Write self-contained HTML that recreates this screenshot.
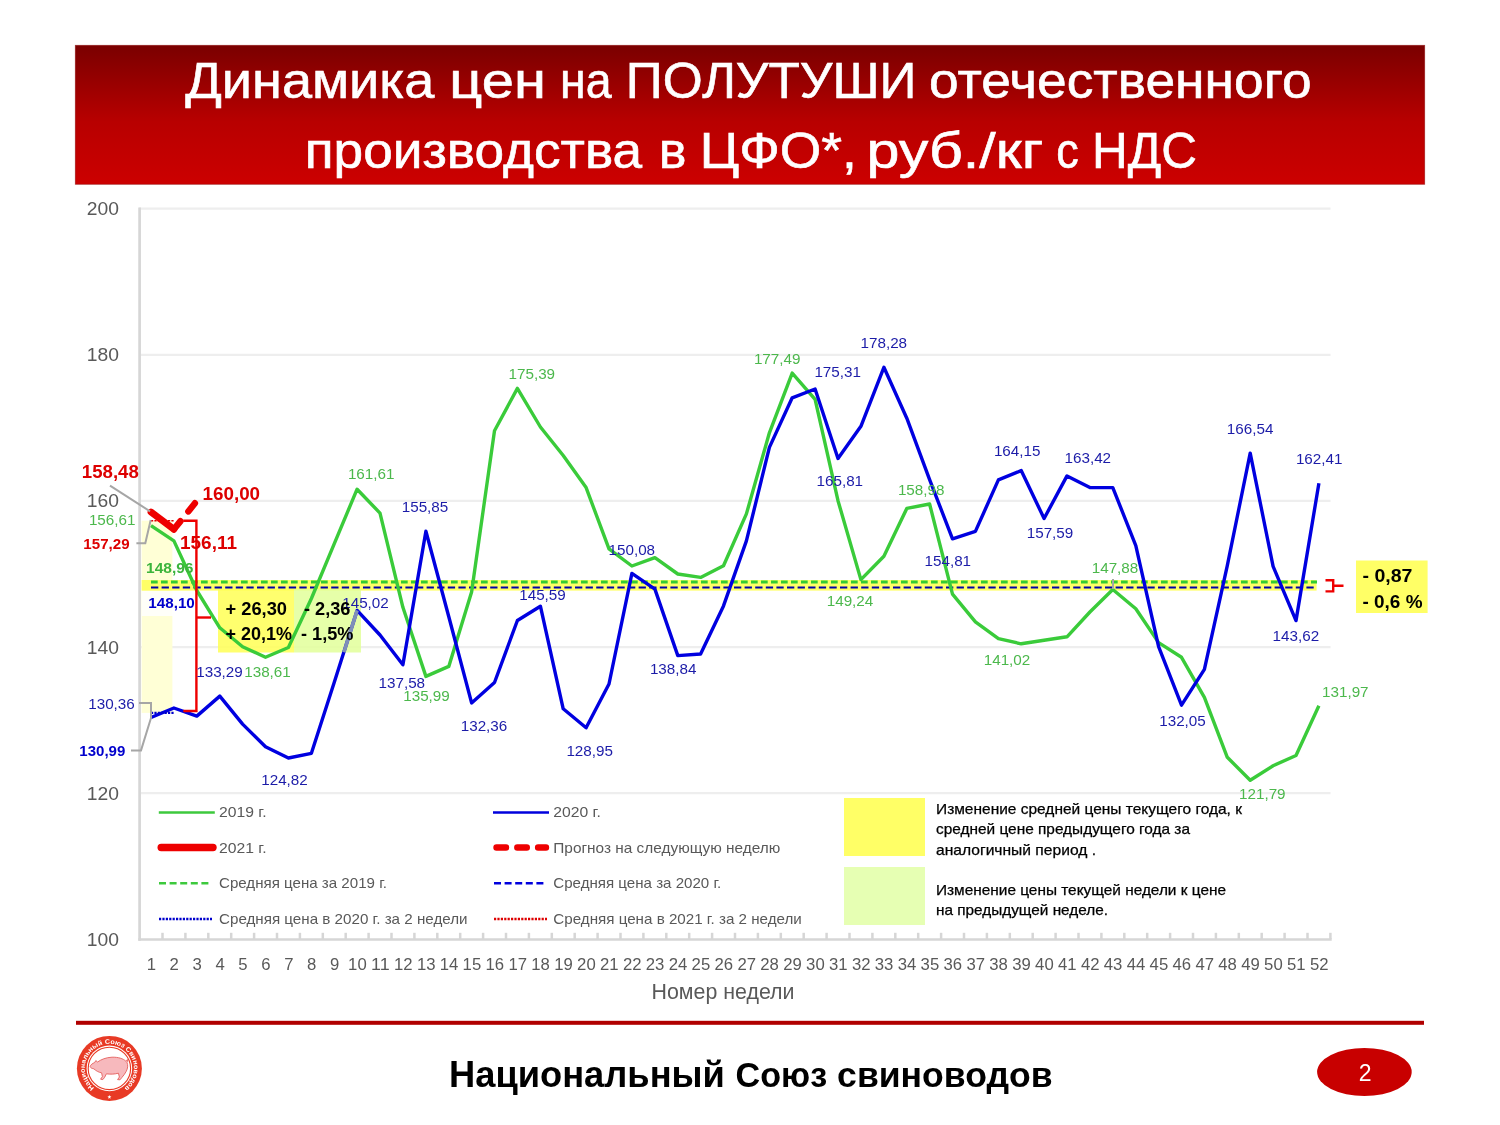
<!DOCTYPE html>
<html lang="ru"><head><meta charset="utf-8"><title>Динамика цен на ПОЛУТУШИ</title>
<style>html,body{margin:0;padding:0;background:#fff;}svg{display:block;}text{font-family:"Liberation Sans",sans-serif;}</style></head><body>
<svg width="1500" height="1125" viewBox="0 0 1500 1125">
<defs><linearGradient id="hg" x1="0" y1="0" x2="0" y2="1"><stop offset="0" stop-color="#7a0000"/><stop offset="0.55" stop-color="#b80000"/><stop offset="1" stop-color="#cc0000"/></linearGradient></defs>
<rect width="1500" height="1125" fill="#ffffff"/>
<rect x="75.3" y="45.3" width="1349.4" height="139" fill="url(#hg)" stroke="#8a0000" stroke-opacity="0.6" stroke-width="0.8"/>
<text transform="translate(185.20,98.1) scale(1.0925,1)" font-size="49.5" fill="#ffffff" stroke="#ffffff" stroke-width="0.6">Динамика</text>
<text transform="translate(449.29,98.1) scale(1.1687,1)" font-size="49.5" fill="#ffffff" stroke="#ffffff" stroke-width="0.6">цен</text>
<text transform="translate(559.98,98.1) scale(0.9401,1)" font-size="49.5" fill="#ffffff" stroke="#ffffff" stroke-width="0.6">на</text>
<text transform="translate(625.85,98.1) scale(1.0378,1)" font-size="49.5" fill="#ffffff" stroke="#ffffff" stroke-width="0.6">ПОЛУТУШИ</text>
<text transform="translate(929.05,98.1) scale(1.0773,1)" font-size="49.5" fill="#ffffff" stroke="#ffffff" stroke-width="0.6">отечественного</text>
<text transform="translate(304.77,167.5) scale(1.0750,1)" font-size="49.5" fill="#ffffff" stroke="#ffffff" stroke-width="0.6">производства</text>
<text transform="translate(658.84,167.5) scale(1.0545,1)" font-size="49.5" fill="#ffffff" stroke="#ffffff" stroke-width="0.6">в</text>
<text transform="translate(699.69,167.5) scale(1.0781,1)" font-size="49.5" fill="#ffffff" stroke="#ffffff" stroke-width="0.6">ЦФО*,</text>
<text transform="translate(866.41,167.5) scale(1.1962,1)" font-size="49.5" fill="#ffffff" stroke="#ffffff" stroke-width="0.6">руб./кг</text>
<text transform="translate(1056.18,167.5) scale(0.9091,1)" font-size="49.5" fill="#ffffff" stroke="#ffffff" stroke-width="0.6">с</text>
<text transform="translate(1092.00,167.5) scale(0.9993,1)" font-size="49.5" fill="#ffffff" stroke="#ffffff" stroke-width="0.6">НДС</text>
<line x1="139" y1="208.6" x2="1330.5" y2="208.6" stroke="#eeeeee" stroke-width="2.2"/>
<line x1="139" y1="354.8" x2="1330.5" y2="354.8" stroke="#eeeeee" stroke-width="2.2"/>
<line x1="139" y1="500.9" x2="1330.5" y2="500.9" stroke="#eeeeee" stroke-width="2.2"/>
<line x1="139" y1="647.1" x2="1330.5" y2="647.1" stroke="#eeeeee" stroke-width="2.2"/>
<line x1="139" y1="793.2" x2="1330.5" y2="793.2" stroke="#eeeeee" stroke-width="2.2"/>
<rect x="141.6" y="520.7" width="30.8" height="192.2" fill="#ffffd6"/>
<rect x="141.6" y="580" width="1175" height="10.6" fill="#ffff66"/>
<line x1="139.6" y1="207.5" x2="139.6" y2="940.7" stroke="#d6d6d6" stroke-width="2.7"/>
<line x1="138.3" y1="939.45" x2="1331.7" y2="939.45" stroke="#d6d6d6" stroke-width="2.5"/>
<line x1="162.5" y1="932.8" x2="162.5" y2="939" stroke="#d6d6d6" stroke-width="2.5"/>
<line x1="185.4" y1="932.8" x2="185.4" y2="939" stroke="#d6d6d6" stroke-width="2.5"/>
<line x1="208.3" y1="932.8" x2="208.3" y2="939" stroke="#d6d6d6" stroke-width="2.5"/>
<line x1="231.2" y1="932.8" x2="231.2" y2="939" stroke="#d6d6d6" stroke-width="2.5"/>
<line x1="254.1" y1="932.8" x2="254.1" y2="939" stroke="#d6d6d6" stroke-width="2.5"/>
<line x1="277.0" y1="932.8" x2="277.0" y2="939" stroke="#d6d6d6" stroke-width="2.5"/>
<line x1="299.9" y1="932.8" x2="299.9" y2="939" stroke="#d6d6d6" stroke-width="2.5"/>
<line x1="322.8" y1="932.8" x2="322.8" y2="939" stroke="#d6d6d6" stroke-width="2.5"/>
<line x1="345.7" y1="932.8" x2="345.7" y2="939" stroke="#d6d6d6" stroke-width="2.5"/>
<line x1="368.6" y1="932.8" x2="368.6" y2="939" stroke="#d6d6d6" stroke-width="2.5"/>
<line x1="391.5" y1="932.8" x2="391.5" y2="939" stroke="#d6d6d6" stroke-width="2.5"/>
<line x1="414.4" y1="932.8" x2="414.4" y2="939" stroke="#d6d6d6" stroke-width="2.5"/>
<line x1="437.3" y1="932.8" x2="437.3" y2="939" stroke="#d6d6d6" stroke-width="2.5"/>
<line x1="460.2" y1="932.8" x2="460.2" y2="939" stroke="#d6d6d6" stroke-width="2.5"/>
<line x1="483.1" y1="932.8" x2="483.1" y2="939" stroke="#d6d6d6" stroke-width="2.5"/>
<line x1="506.0" y1="932.8" x2="506.0" y2="939" stroke="#d6d6d6" stroke-width="2.5"/>
<line x1="528.9" y1="932.8" x2="528.9" y2="939" stroke="#d6d6d6" stroke-width="2.5"/>
<line x1="551.8" y1="932.8" x2="551.8" y2="939" stroke="#d6d6d6" stroke-width="2.5"/>
<line x1="574.7" y1="932.8" x2="574.7" y2="939" stroke="#d6d6d6" stroke-width="2.5"/>
<line x1="597.6" y1="932.8" x2="597.6" y2="939" stroke="#d6d6d6" stroke-width="2.5"/>
<line x1="620.5" y1="932.8" x2="620.5" y2="939" stroke="#d6d6d6" stroke-width="2.5"/>
<line x1="643.4" y1="932.8" x2="643.4" y2="939" stroke="#d6d6d6" stroke-width="2.5"/>
<line x1="666.3" y1="932.8" x2="666.3" y2="939" stroke="#d6d6d6" stroke-width="2.5"/>
<line x1="689.2" y1="932.8" x2="689.2" y2="939" stroke="#d6d6d6" stroke-width="2.5"/>
<line x1="712.1" y1="932.8" x2="712.1" y2="939" stroke="#d6d6d6" stroke-width="2.5"/>
<line x1="735.0" y1="932.8" x2="735.0" y2="939" stroke="#d6d6d6" stroke-width="2.5"/>
<line x1="757.9" y1="932.8" x2="757.9" y2="939" stroke="#d6d6d6" stroke-width="2.5"/>
<line x1="780.8" y1="932.8" x2="780.8" y2="939" stroke="#d6d6d6" stroke-width="2.5"/>
<line x1="803.7" y1="932.8" x2="803.7" y2="939" stroke="#d6d6d6" stroke-width="2.5"/>
<line x1="826.6" y1="932.8" x2="826.6" y2="939" stroke="#d6d6d6" stroke-width="2.5"/>
<line x1="849.5" y1="932.8" x2="849.5" y2="939" stroke="#d6d6d6" stroke-width="2.5"/>
<line x1="872.4" y1="932.8" x2="872.4" y2="939" stroke="#d6d6d6" stroke-width="2.5"/>
<line x1="895.3" y1="932.8" x2="895.3" y2="939" stroke="#d6d6d6" stroke-width="2.5"/>
<line x1="918.2" y1="932.8" x2="918.2" y2="939" stroke="#d6d6d6" stroke-width="2.5"/>
<line x1="941.1" y1="932.8" x2="941.1" y2="939" stroke="#d6d6d6" stroke-width="2.5"/>
<line x1="964.0" y1="932.8" x2="964.0" y2="939" stroke="#d6d6d6" stroke-width="2.5"/>
<line x1="986.9" y1="932.8" x2="986.9" y2="939" stroke="#d6d6d6" stroke-width="2.5"/>
<line x1="1009.8" y1="932.8" x2="1009.8" y2="939" stroke="#d6d6d6" stroke-width="2.5"/>
<line x1="1032.7" y1="932.8" x2="1032.7" y2="939" stroke="#d6d6d6" stroke-width="2.5"/>
<line x1="1055.6" y1="932.8" x2="1055.6" y2="939" stroke="#d6d6d6" stroke-width="2.5"/>
<line x1="1078.5" y1="932.8" x2="1078.5" y2="939" stroke="#d6d6d6" stroke-width="2.5"/>
<line x1="1101.4" y1="932.8" x2="1101.4" y2="939" stroke="#d6d6d6" stroke-width="2.5"/>
<line x1="1124.3" y1="932.8" x2="1124.3" y2="939" stroke="#d6d6d6" stroke-width="2.5"/>
<line x1="1147.2" y1="932.8" x2="1147.2" y2="939" stroke="#d6d6d6" stroke-width="2.5"/>
<line x1="1170.1" y1="932.8" x2="1170.1" y2="939" stroke="#d6d6d6" stroke-width="2.5"/>
<line x1="1193.0" y1="932.8" x2="1193.0" y2="939" stroke="#d6d6d6" stroke-width="2.5"/>
<line x1="1215.9" y1="932.8" x2="1215.9" y2="939" stroke="#d6d6d6" stroke-width="2.5"/>
<line x1="1238.8" y1="932.8" x2="1238.8" y2="939" stroke="#d6d6d6" stroke-width="2.5"/>
<line x1="1261.7" y1="932.8" x2="1261.7" y2="939" stroke="#d6d6d6" stroke-width="2.5"/>
<line x1="1284.6" y1="932.8" x2="1284.6" y2="939" stroke="#d6d6d6" stroke-width="2.5"/>
<line x1="1307.5" y1="932.8" x2="1307.5" y2="939" stroke="#d6d6d6" stroke-width="2.5"/>
<line x1="1330.4" y1="932.8" x2="1330.4" y2="939" stroke="#d6d6d6" stroke-width="2.5"/>
<text x="119.0" y="215.1" font-size="18.4" fill="#595959" text-anchor="end" textLength="32.2" lengthAdjust="spacingAndGlyphs">200</text>
<text x="119.0" y="361.3" font-size="18.4" fill="#595959" text-anchor="end" textLength="32.2" lengthAdjust="spacingAndGlyphs">180</text>
<text x="119.0" y="507.4" font-size="18.4" fill="#595959" text-anchor="end" textLength="32.2" lengthAdjust="spacingAndGlyphs">160</text>
<text x="119.0" y="653.6" font-size="18.4" fill="#595959" text-anchor="end" textLength="32.2" lengthAdjust="spacingAndGlyphs">140</text>
<text x="119.0" y="799.7" font-size="18.4" fill="#595959" text-anchor="end" textLength="32.2" lengthAdjust="spacingAndGlyphs">120</text>
<text x="119.0" y="945.9" font-size="18.4" fill="#595959" text-anchor="end" textLength="32.2" lengthAdjust="spacingAndGlyphs">100</text>
<text x="151.3" y="970.2" font-size="16.8" fill="#595959" text-anchor="middle" textLength="9.3" lengthAdjust="spacingAndGlyphs">1</text>
<text x="174.2" y="970.2" font-size="16.8" fill="#595959" text-anchor="middle" textLength="9.3" lengthAdjust="spacingAndGlyphs">2</text>
<text x="197.2" y="970.2" font-size="16.8" fill="#595959" text-anchor="middle" textLength="9.3" lengthAdjust="spacingAndGlyphs">3</text>
<text x="220.1" y="970.2" font-size="16.8" fill="#595959" text-anchor="middle" textLength="9.3" lengthAdjust="spacingAndGlyphs">4</text>
<text x="242.9" y="970.2" font-size="16.8" fill="#595959" text-anchor="middle" textLength="9.3" lengthAdjust="spacingAndGlyphs">5</text>
<text x="265.8" y="970.2" font-size="16.8" fill="#595959" text-anchor="middle" textLength="9.3" lengthAdjust="spacingAndGlyphs">6</text>
<text x="288.8" y="970.2" font-size="16.8" fill="#595959" text-anchor="middle" textLength="9.3" lengthAdjust="spacingAndGlyphs">7</text>
<text x="311.7" y="970.2" font-size="16.8" fill="#595959" text-anchor="middle" textLength="9.3" lengthAdjust="spacingAndGlyphs">8</text>
<text x="334.6" y="970.2" font-size="16.8" fill="#595959" text-anchor="middle" textLength="9.3" lengthAdjust="spacingAndGlyphs">9</text>
<text x="357.4" y="970.2" font-size="16.8" fill="#595959" text-anchor="middle" textLength="18.6" lengthAdjust="spacingAndGlyphs">10</text>
<text x="380.3" y="970.2" font-size="16.8" fill="#595959" text-anchor="middle" textLength="18.6" lengthAdjust="spacingAndGlyphs">11</text>
<text x="403.2" y="970.2" font-size="16.8" fill="#595959" text-anchor="middle" textLength="18.6" lengthAdjust="spacingAndGlyphs">12</text>
<text x="426.2" y="970.2" font-size="16.8" fill="#595959" text-anchor="middle" textLength="18.6" lengthAdjust="spacingAndGlyphs">13</text>
<text x="449.1" y="970.2" font-size="16.8" fill="#595959" text-anchor="middle" textLength="18.6" lengthAdjust="spacingAndGlyphs">14</text>
<text x="471.9" y="970.2" font-size="16.8" fill="#595959" text-anchor="middle" textLength="18.6" lengthAdjust="spacingAndGlyphs">15</text>
<text x="494.8" y="970.2" font-size="16.8" fill="#595959" text-anchor="middle" textLength="18.6" lengthAdjust="spacingAndGlyphs">16</text>
<text x="517.7" y="970.2" font-size="16.8" fill="#595959" text-anchor="middle" textLength="18.6" lengthAdjust="spacingAndGlyphs">17</text>
<text x="540.6" y="970.2" font-size="16.8" fill="#595959" text-anchor="middle" textLength="18.6" lengthAdjust="spacingAndGlyphs">18</text>
<text x="563.5" y="970.2" font-size="16.8" fill="#595959" text-anchor="middle" textLength="18.6" lengthAdjust="spacingAndGlyphs">19</text>
<text x="586.4" y="970.2" font-size="16.8" fill="#595959" text-anchor="middle" textLength="18.6" lengthAdjust="spacingAndGlyphs">20</text>
<text x="609.3" y="970.2" font-size="16.8" fill="#595959" text-anchor="middle" textLength="18.6" lengthAdjust="spacingAndGlyphs">21</text>
<text x="632.2" y="970.2" font-size="16.8" fill="#595959" text-anchor="middle" textLength="18.6" lengthAdjust="spacingAndGlyphs">22</text>
<text x="655.1" y="970.2" font-size="16.8" fill="#595959" text-anchor="middle" textLength="18.6" lengthAdjust="spacingAndGlyphs">23</text>
<text x="678.0" y="970.2" font-size="16.8" fill="#595959" text-anchor="middle" textLength="18.6" lengthAdjust="spacingAndGlyphs">24</text>
<text x="700.9" y="970.2" font-size="16.8" fill="#595959" text-anchor="middle" textLength="18.6" lengthAdjust="spacingAndGlyphs">25</text>
<text x="723.8" y="970.2" font-size="16.8" fill="#595959" text-anchor="middle" textLength="18.6" lengthAdjust="spacingAndGlyphs">26</text>
<text x="746.7" y="970.2" font-size="16.8" fill="#595959" text-anchor="middle" textLength="18.6" lengthAdjust="spacingAndGlyphs">27</text>
<text x="769.6" y="970.2" font-size="16.8" fill="#595959" text-anchor="middle" textLength="18.6" lengthAdjust="spacingAndGlyphs">28</text>
<text x="792.5" y="970.2" font-size="16.8" fill="#595959" text-anchor="middle" textLength="18.6" lengthAdjust="spacingAndGlyphs">29</text>
<text x="815.4" y="970.2" font-size="16.8" fill="#595959" text-anchor="middle" textLength="18.6" lengthAdjust="spacingAndGlyphs">30</text>
<text x="838.3" y="970.2" font-size="16.8" fill="#595959" text-anchor="middle" textLength="18.6" lengthAdjust="spacingAndGlyphs">31</text>
<text x="861.2" y="970.2" font-size="16.8" fill="#595959" text-anchor="middle" textLength="18.6" lengthAdjust="spacingAndGlyphs">32</text>
<text x="884.1" y="970.2" font-size="16.8" fill="#595959" text-anchor="middle" textLength="18.6" lengthAdjust="spacingAndGlyphs">33</text>
<text x="907.0" y="970.2" font-size="16.8" fill="#595959" text-anchor="middle" textLength="18.6" lengthAdjust="spacingAndGlyphs">34</text>
<text x="929.9" y="970.2" font-size="16.8" fill="#595959" text-anchor="middle" textLength="18.6" lengthAdjust="spacingAndGlyphs">35</text>
<text x="952.8" y="970.2" font-size="16.8" fill="#595959" text-anchor="middle" textLength="18.6" lengthAdjust="spacingAndGlyphs">36</text>
<text x="975.7" y="970.2" font-size="16.8" fill="#595959" text-anchor="middle" textLength="18.6" lengthAdjust="spacingAndGlyphs">37</text>
<text x="998.6" y="970.2" font-size="16.8" fill="#595959" text-anchor="middle" textLength="18.6" lengthAdjust="spacingAndGlyphs">38</text>
<text x="1021.5" y="970.2" font-size="16.8" fill="#595959" text-anchor="middle" textLength="18.6" lengthAdjust="spacingAndGlyphs">39</text>
<text x="1044.4" y="970.2" font-size="16.8" fill="#595959" text-anchor="middle" textLength="18.6" lengthAdjust="spacingAndGlyphs">40</text>
<text x="1067.3" y="970.2" font-size="16.8" fill="#595959" text-anchor="middle" textLength="18.6" lengthAdjust="spacingAndGlyphs">41</text>
<text x="1090.2" y="970.2" font-size="16.8" fill="#595959" text-anchor="middle" textLength="18.6" lengthAdjust="spacingAndGlyphs">42</text>
<text x="1113.1" y="970.2" font-size="16.8" fill="#595959" text-anchor="middle" textLength="18.6" lengthAdjust="spacingAndGlyphs">43</text>
<text x="1136.0" y="970.2" font-size="16.8" fill="#595959" text-anchor="middle" textLength="18.6" lengthAdjust="spacingAndGlyphs">44</text>
<text x="1158.9" y="970.2" font-size="16.8" fill="#595959" text-anchor="middle" textLength="18.6" lengthAdjust="spacingAndGlyphs">45</text>
<text x="1181.8" y="970.2" font-size="16.8" fill="#595959" text-anchor="middle" textLength="18.6" lengthAdjust="spacingAndGlyphs">46</text>
<text x="1204.7" y="970.2" font-size="16.8" fill="#595959" text-anchor="middle" textLength="18.6" lengthAdjust="spacingAndGlyphs">47</text>
<text x="1227.6" y="970.2" font-size="16.8" fill="#595959" text-anchor="middle" textLength="18.6" lengthAdjust="spacingAndGlyphs">48</text>
<text x="1250.5" y="970.2" font-size="16.8" fill="#595959" text-anchor="middle" textLength="18.6" lengthAdjust="spacingAndGlyphs">49</text>
<text x="1273.4" y="970.2" font-size="16.8" fill="#595959" text-anchor="middle" textLength="18.6" lengthAdjust="spacingAndGlyphs">50</text>
<text x="1296.3" y="970.2" font-size="16.8" fill="#595959" text-anchor="middle" textLength="18.6" lengthAdjust="spacingAndGlyphs">51</text>
<text x="1319.2" y="970.2" font-size="16.8" fill="#595959" text-anchor="middle" textLength="18.6" lengthAdjust="spacingAndGlyphs">52</text>
<text x="651.5" y="999.4" font-size="21.2" fill="#595959" textLength="143.0" lengthAdjust="spacingAndGlyphs">Номер недели</text>
<rect x="844" y="798" width="81" height="58" fill="#ffff66"/>
<rect x="844" y="867" width="81" height="58" fill="#e6ffb3"/>
<text x="936.0" y="814.0" font-size="14.4" fill="#000000" textLength="306.0" lengthAdjust="spacingAndGlyphs" stroke="#000" stroke-width="0.25">Изменение средней цены текущего года, к</text>
<text x="936.0" y="834.4" font-size="14.4" fill="#000000" textLength="254.0" lengthAdjust="spacingAndGlyphs" stroke="#000" stroke-width="0.25">средней цене предыдущего года за</text>
<text x="936.0" y="855.0" font-size="14.4" fill="#000000" textLength="160.0" lengthAdjust="spacingAndGlyphs" stroke="#000" stroke-width="0.25">аналогичный период .</text>
<text x="936.0" y="895.2" font-size="14.4" fill="#000000" textLength="290.0" lengthAdjust="spacingAndGlyphs" stroke="#000" stroke-width="0.25">Изменение цены текущей недели к цене</text>
<text x="936.0" y="915.4" font-size="14.4" fill="#000000" textLength="172.0" lengthAdjust="spacingAndGlyphs" stroke="#000" stroke-width="0.25">на предыдущей неделе.</text>
<rect x="141.8" y="591" width="53.4" height="25" fill="#ffffff" fill-opacity="0.85"/>
<rect x="218" y="589" width="76" height="63.5" fill="#ffff55" fill-opacity="0.85"/>
<rect x="294" y="589" width="67" height="63.5" fill="#e2ff9a" fill-opacity="0.85"/>
<line x1="151" y1="582" x2="1317" y2="582" stroke="#33cc33" stroke-width="3" stroke-dasharray="6.7 3.3"/>
<line x1="151" y1="587.4" x2="1317" y2="587.4" stroke="#0000a8" stroke-width="2" stroke-dasharray="7.3 3.3"/>
<polyline points="151.0,525.7 173.9,540.9 196.8,590.5 219.8,627.8 242.6,646.7 265.5,657.2 288.4,647.5 311.4,598.5 334.2,543.8 357.1,489.2 380.0,513.1 402.9,607.3 425.9,676.4 448.8,666.4 471.6,592.0 494.5,430.7 517.4,388.4 540.4,427.0 563.2,455.5 586.1,487.6 609.0,548.9 631.9,566.0 654.9,557.7 677.8,574.0 700.6,577.4 723.5,565.7 746.4,513.9 769.4,432.8 792.2,373.1 815.1,399.3 838.0,500.7 860.9,579.6 883.9,556.2 906.8,508.4 929.6,504.0 952.5,594.2 975.4,621.9 998.4,638.7 1021.2,643.8 1044.1,640.2 1067.0,636.8 1089.9,612.0 1112.8,589.5 1135.8,608.8 1158.6,642.6 1181.5,657.3 1204.4,697.3 1227.3,757.3 1250.2,780.2 1273.1,765.7 1296.0,755.5 1318.9,705.8" fill="none" stroke="#3acb3a" stroke-width="3.4" stroke-linejoin="round" stroke-linecap="butt"/>
<polyline points="151.0,717.5 173.9,708.0 196.8,716.1 219.8,696.1 242.6,724.1 265.5,746.7 288.4,758.0 311.4,753.3 334.2,682.5 357.1,610.4 380.0,635.0 402.9,664.8 425.9,531.2 448.8,616.8 471.6,702.9 494.5,682.5 517.4,620.5 540.4,606.2 563.2,708.8 586.1,727.8 609.0,684.0 631.9,573.4 654.9,589.1 677.8,655.6 700.6,654.0 723.5,605.9 746.4,540.9 769.4,447.4 792.2,397.8 815.1,389.0 838.0,458.5 860.9,426.3 883.9,367.3 906.8,418.2 929.6,479.6 952.5,538.8 975.4,531.4 998.4,479.9 1021.2,470.6 1044.1,518.5 1067.0,475.9 1089.9,487.6 1112.8,487.6 1135.8,545.6 1158.6,646.7 1181.5,705.2 1204.4,669.4 1227.3,565.7 1250.2,453.1 1273.1,566.4 1296.0,620.6 1318.9,483.3" fill="none" stroke="#0000e0" stroke-width="3.4" stroke-linejoin="round" stroke-linecap="butt"/>
<line x1="343.9" y1="652.2" x2="357.1" y2="610.4" stroke="#7f8fb8" stroke-width="3.6"/>
<line x1="151.0" y1="712.9" x2="173.9" y2="712.9" stroke="#0000cc" stroke-width="2.4" stroke-dasharray="2.2 1.2"/>
<line x1="151.0" y1="520.7" x2="173.9" y2="520.7" stroke="#dd0000" stroke-width="1.6" stroke-dasharray="2.2 1.2"/>
<polyline points="151.0,512.0 173.9,529.3" fill="none" stroke="#ee0000" stroke-width="6.8" stroke-linecap="round"/>
<line x1="173.9" y1="529.3" x2="196.8" y2="500.9" stroke="#ee0000" stroke-width="6.4" stroke-linecap="round" stroke-dasharray="10.5 12.5"/>
<polyline points="183.3,520.7 196.4,520.7 196.4,711 183.3,711" fill="none" stroke="#ee0000" stroke-width="2.4"/>
<line x1="196.4" y1="617.5" x2="211" y2="617.5" stroke="#ee0000" stroke-width="2.4"/>
<path d="M1325.5,580.2 H1333.2 V591.4 H1325.5 M1333.2,585.8 H1343.5" fill="none" stroke="#ee0000" stroke-width="2.4"/>
<line x1="110" y1="485.7" x2="150" y2="511.3" stroke="#a6a6a6" stroke-width="2"/>
<polyline points="136.4,543.3 145.3,543.3 150.7,520" fill="none" stroke="#a6a6a6" stroke-width="2"/>
<polyline points="139,703 151,703 151,718" fill="none" stroke="#a6a6a6" stroke-width="2"/>
<polyline points="131,750.4 141,750.4 151,718" fill="none" stroke="#a6a6a6" stroke-width="2"/>
<line x1="1113" y1="579" x2="1113" y2="589" stroke="#a6a6a6" stroke-width="2"/>
<text x="347.9" y="478.7" font-size="15" fill="#4cb84c" textLength="46.6" lengthAdjust="spacingAndGlyphs">161,61</text>
<text x="401.7" y="512.0" font-size="15" fill="#1c1ca8" textLength="46.6" lengthAdjust="spacingAndGlyphs">155,85</text>
<text x="508.5" y="379.3" font-size="15" fill="#4cb84c" textLength="46.6" lengthAdjust="spacingAndGlyphs">175,39</text>
<text x="378.5" y="688.0" font-size="15" fill="#1c1ca8" textLength="46.6" lengthAdjust="spacingAndGlyphs">137,58</text>
<text x="403.2" y="701.3" font-size="15" fill="#4cb84c" textLength="46.6" lengthAdjust="spacingAndGlyphs">135,99</text>
<text x="460.7" y="730.7" font-size="15" fill="#1c1ca8" textLength="46.6" lengthAdjust="spacingAndGlyphs">132,36</text>
<text x="608.5" y="555.3" font-size="15" fill="#1c1ca8" textLength="46.6" lengthAdjust="spacingAndGlyphs">150,08</text>
<text x="519.2" y="600.0" font-size="15" fill="#1c1ca8" textLength="46.6" lengthAdjust="spacingAndGlyphs">145,59</text>
<text x="753.9" y="364.0" font-size="15" fill="#4cb84c" textLength="46.6" lengthAdjust="spacingAndGlyphs">177,49</text>
<text x="814.4" y="376.7" font-size="15" fill="#1c1ca8" textLength="46.6" lengthAdjust="spacingAndGlyphs">175,31</text>
<text x="816.5" y="485.5" font-size="15" fill="#1c1ca8" textLength="46.6" lengthAdjust="spacingAndGlyphs">165,81</text>
<text x="826.7" y="606.0" font-size="15" fill="#4cb84c" textLength="46.6" lengthAdjust="spacingAndGlyphs">149,24</text>
<text x="860.5" y="348.0" font-size="15" fill="#1c1ca8" textLength="46.6" lengthAdjust="spacingAndGlyphs">178,28</text>
<text x="566.4" y="755.5" font-size="15" fill="#1c1ca8" textLength="46.6" lengthAdjust="spacingAndGlyphs">128,95</text>
<text x="649.9" y="673.9" font-size="15" fill="#1c1ca8" textLength="46.6" lengthAdjust="spacingAndGlyphs">138,84</text>
<text x="897.9" y="495.3" font-size="15" fill="#4cb84c" textLength="46.6" lengthAdjust="spacingAndGlyphs">158,98</text>
<text x="924.5" y="566.0" font-size="15" fill="#1c1ca8" textLength="46.6" lengthAdjust="spacingAndGlyphs">154,81</text>
<text x="993.9" y="456.0" font-size="15" fill="#1c1ca8" textLength="46.6" lengthAdjust="spacingAndGlyphs">164,15</text>
<text x="1026.7" y="537.5" font-size="15" fill="#1c1ca8" textLength="46.6" lengthAdjust="spacingAndGlyphs">157,59</text>
<text x="1064.5" y="463.3" font-size="15" fill="#1c1ca8" textLength="46.6" lengthAdjust="spacingAndGlyphs">163,42</text>
<text x="1091.7" y="573.2" font-size="15" fill="#4cb84c" textLength="46.6" lengthAdjust="spacingAndGlyphs">147,88</text>
<text x="1226.8" y="434.0" font-size="15" fill="#1c1ca8" textLength="46.6" lengthAdjust="spacingAndGlyphs">166,54</text>
<text x="1295.9" y="464.2" font-size="15" fill="#1c1ca8" textLength="46.6" lengthAdjust="spacingAndGlyphs">162,41</text>
<text x="1272.6" y="640.8" font-size="15" fill="#1c1ca8" textLength="46.6" lengthAdjust="spacingAndGlyphs">143,62</text>
<text x="983.7" y="665.3" font-size="15" fill="#4cb84c" textLength="46.6" lengthAdjust="spacingAndGlyphs">141,02</text>
<text x="1159.2" y="725.9" font-size="15" fill="#1c1ca8" textLength="46.6" lengthAdjust="spacingAndGlyphs">132,05</text>
<text x="1239.0" y="798.7" font-size="15" fill="#4cb84c" textLength="46.6" lengthAdjust="spacingAndGlyphs">121,79</text>
<text x="1322.0" y="696.7" font-size="15" fill="#4cb84c" textLength="46.6" lengthAdjust="spacingAndGlyphs">131,97</text>
<text x="196.2" y="677.0" font-size="15" fill="#1c1ca8" textLength="46.6" lengthAdjust="spacingAndGlyphs">133,29</text>
<text x="244.2" y="677.0" font-size="15" fill="#4cb84c" textLength="46.6" lengthAdjust="spacingAndGlyphs">138,61</text>
<text x="261.2" y="785.0" font-size="15" fill="#1c1ca8" textLength="46.6" lengthAdjust="spacingAndGlyphs">124,82</text>
<text x="342.2" y="608.0" font-size="15" fill="#1c1ca8" textLength="46.6" lengthAdjust="spacingAndGlyphs">145,02</text>
<text x="88.9" y="524.7" font-size="15" fill="#4cb84c" textLength="46.6" lengthAdjust="spacingAndGlyphs">156,61</text>
<text x="88.2" y="709.0" font-size="15" fill="#1c1ca8" textLength="46.6" lengthAdjust="spacingAndGlyphs">130,36</text>
<text x="81.8" y="478.0" font-size="17.8" fill="#dd0000" font-weight="bold" textLength="57.0" lengthAdjust="spacingAndGlyphs">158,48</text>
<text x="202.5" y="500.0" font-size="17.8" fill="#dd0000" font-weight="bold" textLength="57.6" lengthAdjust="spacingAndGlyphs">160,00</text>
<text x="180.0" y="549.3" font-size="17.8" fill="#dd0000" font-weight="bold" textLength="57.0" lengthAdjust="spacingAndGlyphs">156,11</text>
<text x="83.3" y="548.7" font-size="15" fill="#dd0000" font-weight="bold" textLength="46.3" lengthAdjust="spacingAndGlyphs">157,29</text>
<text x="146.0" y="573.3" font-size="15" fill="#3cb43c" font-weight="bold" textLength="47.5" lengthAdjust="spacingAndGlyphs">148,96</text>
<text x="148.3" y="608.0" font-size="15" fill="#0000cc" font-weight="bold" textLength="46.5" lengthAdjust="spacingAndGlyphs">148,10</text>
<text x="79.3" y="756.0" font-size="15" fill="#0000cc" font-weight="bold" textLength="46.0" lengthAdjust="spacingAndGlyphs">130,99</text>
<text x="225.5" y="614.6" font-size="17.8" fill="#000000" font-weight="bold" textLength="61.5" lengthAdjust="spacingAndGlyphs">+ 26,30</text>
<text x="225.5" y="639.8" font-size="17.8" fill="#000000" font-weight="bold" textLength="66.5" lengthAdjust="spacingAndGlyphs">+ 20,1%</text>
<text x="304.0" y="614.6" font-size="17.8" fill="#000000" font-weight="bold" textLength="46.5" lengthAdjust="spacingAndGlyphs">- 2,36</text>
<text x="301.0" y="639.8" font-size="17.8" fill="#000000" font-weight="bold" textLength="52.5" lengthAdjust="spacingAndGlyphs">- 1,5%</text>
<rect x="1356" y="560.5" width="71.6" height="52.5" fill="#ffff66"/>
<text x="1362.5" y="582.0" font-size="17.8" fill="#000000" font-weight="bold" textLength="50.0" lengthAdjust="spacingAndGlyphs">- 0,87</text>
<text x="1362.5" y="608.3" font-size="17.8" fill="#000000" font-weight="bold" textLength="60.0" lengthAdjust="spacingAndGlyphs">- 0,6 %</text>
<line x1="158.8" y1="812.5" x2="214.8" y2="812.5" stroke="#3dc93d" stroke-width="2.6"/>
<text x="219.0" y="817.3" font-size="14.8" fill="#595959" textLength="47.5" lengthAdjust="spacingAndGlyphs">2019 г.</text>
<line x1="161.2" y1="847.5" x2="213" y2="847.5" stroke="#ee0000" stroke-width="7.4" stroke-linecap="round"/>
<text x="219.0" y="852.6" font-size="14.8" fill="#595959" textLength="47.5" lengthAdjust="spacingAndGlyphs">2021 г.</text>
<line x1="159" y1="883.3" x2="210" y2="883.3" stroke="#3dc93d" stroke-width="2.4" stroke-dasharray="7 3.6"/>
<text x="219.0" y="888.4" font-size="14.8" fill="#595959" textLength="168.0" lengthAdjust="spacingAndGlyphs">Средняя цена за 2019 г.</text>
<line x1="159" y1="919" x2="212" y2="919" stroke="#0000cc" stroke-width="2.6" stroke-dasharray="2.2 1.2"/>
<text x="219.0" y="924.2" font-size="14.8" fill="#595959" textLength="248.5" lengthAdjust="spacingAndGlyphs">Средняя цена в 2020 г. за 2 недели</text>
<line x1="493" y1="812.5" x2="549" y2="812.5" stroke="#0000dd" stroke-width="2.6"/>
<text x="553.3" y="817.3" font-size="14.8" fill="#595959" textLength="47.5" lengthAdjust="spacingAndGlyphs">2020 г.</text>
<line x1="496.5" y1="847.5" x2="546" y2="847.5" stroke="#ee0000" stroke-width="6.4" stroke-linecap="round" stroke-dasharray="9.5 11.3"/>
<text x="553.3" y="852.6" font-size="14.8" fill="#595959" textLength="227.0" lengthAdjust="spacingAndGlyphs">Прогноз на следующую неделю</text>
<line x1="494" y1="883.3" x2="545" y2="883.3" stroke="#0000dd" stroke-width="2.4" stroke-dasharray="7 3.6"/>
<text x="553.3" y="888.4" font-size="14.8" fill="#595959" textLength="168.0" lengthAdjust="spacingAndGlyphs">Средняя цена за 2020 г.</text>
<line x1="494" y1="919" x2="547" y2="919" stroke="#dd0000" stroke-width="2.6" stroke-dasharray="2.2 1.2"/>
<text x="553.3" y="924.2" font-size="14.8" fill="#595959" textLength="248.5" lengthAdjust="spacingAndGlyphs">Средняя цена в 2021 г. за 2 недели</text>
<rect x="76" y="1020.8" width="1348" height="4" fill="#b00000"/>
<text transform="translate(448.98,1086.5) scale(1.0088,1)" font-size="36" fill="#000000" font-weight="bold">Национальный</text>
<text transform="translate(735.55,1086.5) scale(0.9479,1)" font-size="36" fill="#000000" font-weight="bold">Союз</text>
<text transform="translate(837.11,1086.5) scale(0.9878,1)" font-size="36" fill="#000000" font-weight="bold">свиноводов</text>
<ellipse cx="1364.4" cy="1072" rx="47.3" ry="24" fill="#c80000"/>
<text x="1365.2" y="1081.3" font-size="23" fill="#ffffff" text-anchor="middle">2</text>
<circle cx="109.4" cy="1068.4" r="32.5" fill="#e83a25"/>
<circle cx="109.4" cy="1068.4" r="22.8" fill="#ffffff"/>
<circle cx="109.4" cy="1068.4" r="21.2" fill="none" stroke="#e83a25" stroke-width="1.1"/>
<path id="ring" d="M94.25,1087.79 A24.6,24.6 0 0 1 124.55,1049.01 A24.6,24.6 0 0 1 94.25,1087.79" fill="none"/>
<text font-size="6.6" font-weight="bold" fill="#ffffff" textLength="121.9" lengthAdjust="spacingAndGlyphs"><textPath href="#ring">Национальный Союз Свиноводов</textPath></text>
<polygon points="109.40,1094.90 109.93,1096.27 111.40,1096.35 110.26,1097.28 110.63,1098.70 109.40,1097.90 108.17,1098.70 108.54,1097.28 107.40,1096.35 108.87,1096.27" fill="#ffffff"/>
<path d="M90.2,1066.6 C90.6,1064.6 92.6,1063.4 94.6,1062.6 L95.8,1060.6 L97.6,1062 C101,1059.6 106,1057.4 112,1057.2 C118,1057 123.4,1058.6 125.8,1061.2 C126.6,1060 127.4,1059.4 128,1059.8 C127.6,1060.6 127.2,1061.6 127,1062.6 C128.2,1065 127.8,1068.6 126.2,1071.4 C125.2,1073.6 123.4,1075.6 121.8,1077.6 L120,1079.8 L117.6,1079.6 L119.4,1077 L118.4,1073.2 C114.8,1074.2 110,1074.4 106.4,1073.8 L104.6,1077.4 L102.8,1079.6 L100.6,1079.2 L102.4,1076.6 L101.6,1072.8 C98.6,1072.4 95.8,1070.6 93.8,1068.8 C92.4,1068.6 90.6,1068.2 90.2,1066.6 Z" fill="#f7b9bd" stroke="#e4605e" stroke-width="0.9" stroke-linejoin="round"/>
</svg></body></html>
